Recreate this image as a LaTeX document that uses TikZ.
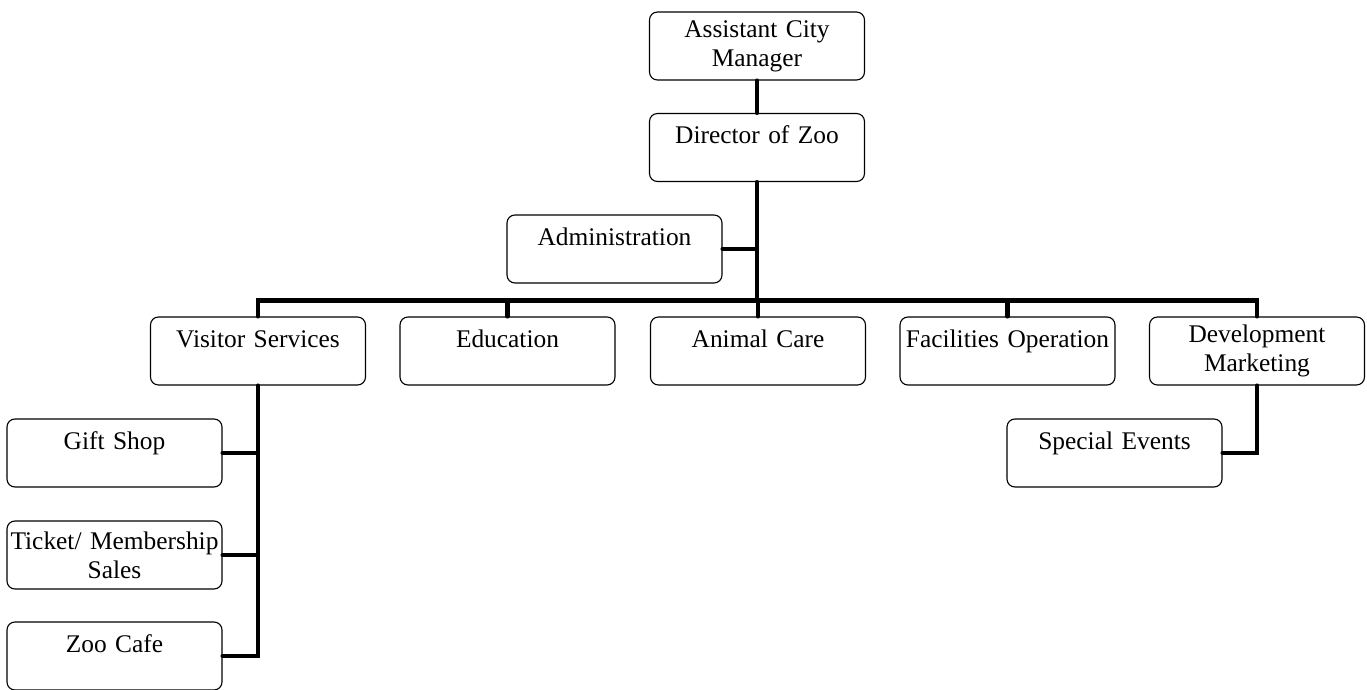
\documentclass[tikz,border=0pt]{standalone}
\usepackage{fontspec}
\setmainfont{Liberation Serif}
\usepackage{tikz}
\usetikzlibrary{positioning}

\begin{document}
\begin{tikzpicture}[x=0.5pt, y=-0.5pt,
  unit/.style={draw, line width=0.55pt, rounded corners=4pt, inner sep=0pt,
    minimum width=107.5pt, minimum height=34pt, text width=106pt, align=center,
    font=\fontsize{12.7pt}{14.6pt}\selectfont},
  oneline/.style={text height=9pt, text depth=13pt},
  link/.style={line width=2.1pt, line cap=round}]
\useasboundingbox (0,0) rectangle (1367,690);
\node[unit] (acm) at (757,46) {Assistant City\\Manager};
\node[unit, oneline] (dir) at (757,147.5) {Director of Zoo};
\node[unit, oneline] (adm) at (614.5,249) {Administration};
\node[unit, oneline] (vs) at (258,351) {Visitor Services};
\node[unit, oneline] (edu) at (507.5,351) {Education};
\node[unit, oneline] (ac) at (758,351) {Animal Care};
\node[unit, oneline] (fo) at (1007.5,351) {Facilities Operation};
\node[unit] (dm) at (1257,351) {Development\\Marketing};
\node[unit, oneline] (gift) at (114.5,453) {Gift Shop};
\node[unit] (ticket) at (114.5,555) {Ticket/ Membership\\Sales};
\node[unit, oneline] (cafe) at (114.5,656) {Zoo Cafe};
\node[unit, oneline] (spec) at (1114.5,453) {Special Events};
\draw[link] (acm.south) -- (dir.north);
\draw[link] (vs.north) -- ++(0,-16) coordinate (bus) -| (dm.north);
\draw[link] (dir.south) -- (dir.south |- bus);
\draw[link] (adm.east) -- (adm.east -| dir.south);
\draw[link] (edu.north) -- (edu.north |- bus);
\draw[link] (ac.north) -- (ac.north |- bus);
\draw[link] (fo.north) -- (fo.north |- bus);
\draw[link] (vs.south) |- (cafe.east);
\draw[link] (gift.east) -- (gift.east -| vs.south);
\draw[link] (ticket.east) -- (ticket.east -| vs.south);
\draw[link] (dm.south) |- (spec.east);
\end{tikzpicture}
\end{document}
